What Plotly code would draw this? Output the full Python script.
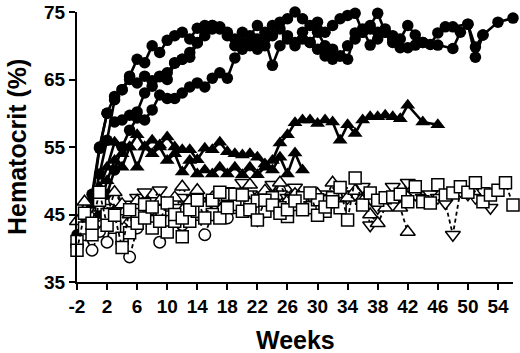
import plotly.graph_objects as go

# ---------------- data ----------------
# Filled circles (solid lines)
c1_w = [-2, -1, 0, 1, 2, 3, 4, 5, 6, 7, 8, 9, 10, 11, 12, 13, 14, 15, 16, 17, 18, 19, 20, 21, 22, 23, 24, 25, 26, 27, 28, 29, 30, 31, 32, 33, 34, 35, 36, 37, 38, 39, 40, 41, 42, 43, 44, 45, 46, 47, 48, 50, 51, 52, 54, 56]
c1_v = [42, 45, 48, 55, 60, 62.5, 63.5, 65.5, 68, 67.5, 70, 69, 70.8, 71.5, 72, 71, 72.6, 73, 73, 72.5, 72, 71, 72, 71.5, 73, 72, 73, 73.5, 74, 75, 74, 73, 73.5, 72, 73, 74, 74.5, 74.8, 72, 73, 74.8, 72, 71.5, 71, 73, 71.6, 70.5, 70.2, 71.9, 72.8, 72.8, 73.2, 68.3, 71.6, 73.5, 74.1]

c2_w = [-1, 0, 1, 2, 3, 4, 5, 6, 7, 8, 9, 10, 11, 12, 13, 14, 15, 16, 17, 18, 19, 20, 21, 22, 23, 24, 25, 26, 27, 28, 29, 30, 31, 32, 33, 34, 35, 36, 37, 38, 39, 40, 41, 42, 43, 44, 46, 48, 49, 50, 51, 52]
c2_v = [44, 46, 51, 56, 62, 63.5, 65, 64.5, 65.5, 64.8, 65.5, 65, 67.4, 68, 68.3, 70.4, 72.5, 73, 72.8, 71.5, 70, 70.5, 70, 69.5, 71, 67.1, 70, 71, 70.5, 72, 70.5, 72, 70, 69.5, 68.5, 68, 71.9, 72.5, 70.1, 72, 72.5, 71, 69.7, 69.7, 70.1, 70.5, 70.1, 69.6, 72, 73.2, 69.8, 71.6]

c3_w = [-2, -1, 0, 1, 2, 3, 4, 5, 6, 7, 8, 9, 10, 11, 12, 13, 14, 15, 16, 17, 18, 19, 20, 21, 22, 23, 24, 25, 26, 27, 28, 29, 30, 31, 32, 33, 34, 35, 36, 37, 38, 39, 40]
c3_v = [41, 42, 43, 45, 48, 51.6, 55, 57.5, 59.3, 59, 60.5, 62.7, 62.2, 62.2, 63, 63.9, 64.5, 63.9, 65.2, 66, 65.2, 68.2, 69.5, 70.5, 71, 70, 71.5, 72.5, 71.5, 70, 71, 70.5, 69.5, 68.5, 68, 68.5, 70, 71, 72, 72.5, 71, 72, 70.5]

c4_w = [-1, 0, 1, 2, 3, 4, 5, 6, 7, 8, 9, 10, 11, 12, 13, 14, 15, 16]
c4_v = [43, 47, 54.8, 60, 58.7, 59, 59.7, 60.2, 63, 64, 65.4, 66, 67.5, 68, 69, 70.5, 71.5, 72.5]

# Filled triangles (solid lines)
t1_w = [-2, 0, 1, 2, 3, 4, 5, 6, 7, 8, 9, 10, 11, 12, 13, 14, 15, 16, 17, 18, 19, 20, 21, 22, 23, 24, 25, 26, 27, 28, 29, 30, 31, 32, 33, 34, 35, 36, 37, 38, 39, 40, 41, 42, 44, 46]
t1_v = [44, 46, 49, 52, 55.7, 54, 55, 56.8, 55, 56, 55.3, 56.5, 55, 54.6, 54.6, 53.1, 54.8, 54.6, 55.7, 54.3, 54, 53.8, 54, 53.5, 52.5, 53, 55.6, 56.8, 58.6, 59, 59, 58.5, 59, 58.7, 56, 58.3, 57, 59, 59.5, 59.5, 59.7, 59.5, 59.2, 61.2, 58.7, 58.3]

t2_w = [-1, 0, 1, 2, 3, 4, 5, 6, 7, 8, 9, 10, 11, 12, 13, 14, 15, 16, 17, 18, 19, 20, 21, 22, 23, 24, 25, 26, 27, 28]
t2_v = [43, 44, 46, 50, 53, 52, 55, 52, 55, 54, 55, 53, 54, 51.3, 53, 51, 51.6, 51, 52, 51, 52, 50.9, 52, 50.9, 52, 51.6, 53.5, 51, 54.1, 51.6]

# Open squares (dashed lines)
s1_w = list(range(-2, 57))
s1_v = [39.7, 45.2, 43.7, 48.3, 43.4, 44.9, 40.1, 45.7, 43.7, 44.5, 46.1, 44, 46.7, 45, 44.5, 45.7, 47.1, 44.5, 47.1, 48.3, 46, 48, 47.9, 45.7, 44.2, 47.1, 46.4, 45.2, 45.7, 47, 45.7, 48.2, 44.9, 46.1, 46.9, 49, 44.2, 50.4, 46.4, 48.2, 47.1, 47.5, 47.6, 48, 46.9, 49.1, 46.9, 46.7, 49.4, 47.9, 48.2, 49.1, 48.3, 49.7, 46.9, 47.9, 48.6, 49.7, 46.4]

s2_w = list(range(-2, 34))
s2_v = [41, 43, 42, 47.1, 45, 43.1, 41.5, 42.3, 45, 46.5, 43, 45.5, 42.4, 44, 41.7, 44, 45.5, 46, 45, 44.5, 48, 46.5, 45.5, 46.5, 47, 45.5, 47.5, 46, 44.7, 46.5, 47.5, 46, 47.2, 45.5, 47.5, 46]

# Open circles (dashed lines)
oc_w = list(range(-1, 28))
oc_v = [42, 39.7, 42.5, 40.9, 47.1, 43, 38.7, 43, 45, 44, 40.9, 44, 45, 43.5, 44.5, 45, 42, 45, 46, 44.5, 46, 47, 46, 47.5, 48, 47, 48.5, 47.5, 48]

# Open triangles up (dashed lines)
tu_w = list(range(-2, 43))
tu_v = [44, 46.9, 44.5, 46, 45, 48.3, 46.5, 45, 47, 46, 45.5, 47, 46, 47.5, 49.1, 47, 48.6, 46.5, 47.5, 48, 47, 46.5, 48, 49.4, 47, 48.5, 47.5, 49.7, 47, 48, 46.5, 47.5, 48, 47, 49.7, 48, 47.5, 48.5, 47, 45, 43.7, 46, 47.5, 46, 42.4]

# Open triangles down (dashed lines)
td_w = list(range(-1, 54))
td_v = [44, 45.5, 44, 46, 45.5, 44.5, 46.5, 47.5, 48.3, 47, 48.6, 47, 46, 47.5, 46.5, 45.5, 47, 46, 47.5, 48.5, 47, 49.7, 48, 44.2, 47, 49.4, 48, 47.5, 49, 47.5, 46.5, 47.5, 48, 47, 48.5, 47.5, 48, 49.1, 43.4, 46, 47, 49.1, 48, 49.7, 48, 47.5, 48, 47.5, 46.7, 42, 48.5, 48, 47.5, 48.5, 46]

x_ticks = [-2, 2, 6, 10, 14, 18, 22, 26, 30, 34, 38, 42, 46, 50, 54]
y_ticks = [35, 45, 55, 65, 75]

# ---------------- figure ----------------
fig = go.Figure()

def filled(w, v, sym, size):
    fig.add_trace(go.Scatter(
        x=w, y=v, mode="lines+markers", cliponaxis=False,
        line=dict(color="black", width=2.6),
        marker=dict(symbol=sym, size=size, color="black", line=dict(width=0)),
    ))

def opened(w, v, sym, size):
    fig.add_trace(go.Scatter(
        x=w, y=v, mode="lines+markers", cliponaxis=False,
        line=dict(color="black", width=1.8, dash="4px,3px"),
        marker=dict(symbol=sym, size=size, color="white", line=dict(color="black", width=1.5)),
    ))

filled(c3_w, c3_v, "circle", 11.5)
filled(c4_w, c4_v, "circle", 11.5)
filled(c2_w, c2_v, "circle", 11.5)
filled(c1_w, c1_v, "circle", 11.5)
filled(t2_w, t2_v, "triangle-up", 13)
filled(t1_w, t1_v, "triangle-up", 13)

opened(oc_w, oc_v, "circle", 11.5)
opened(td_w, td_v, "triangle-down", 13)
opened(tu_w, tu_v, "triangle-up", 13)
opened(s2_w, s2_v, "square", 12)
opened(s1_w, s1_v, "square", 12)

tick_font = dict(family="Liberation Sans, Arial, sans-serif", size=19, color="black", weight="bold")
title_font = dict(family="Liberation Sans, Arial, sans-serif", size=25, color="black", weight="bold")

fig.update_layout(
    width=520, height=353,
    margin=dict(l=77, r=7, t=12, b=71, autoexpand=False),
    paper_bgcolor="white", plot_bgcolor="white",
    showlegend=False,
    xaxis=dict(
        range=[-2, 56], tickmode="array", tickvals=x_ticks,
        ticktext=[str(t) for t in x_ticks], automargin=False,
        showline=True, linecolor="black", linewidth=2,
        ticks="outside", ticklen=6, tickwidth=2, tickcolor="black",
        showgrid=False, zeroline=False, tickfont=tick_font,
    ),
    yaxis=dict(
        range=[35, 75], tickmode="array", tickvals=y_ticks,
        ticktext=[str(t) for t in y_ticks], automargin=False,
        showline=True, linecolor="black", linewidth=2,
        ticks="outside", ticklen=6, tickwidth=2, tickcolor="black",
        showgrid=False, zeroline=False, tickfont=tick_font,
    ),
    annotations=[
        dict(text="Weeks", xref="paper", yref="paper", x=0.5, y=0,
             xanchor="center", yanchor="middle", yshift=-58, showarrow=False,
             font=title_font),
        dict(text="Hematocrit (%)", xref="paper", yref="paper", x=0, y=0.5,
             xanchor="center", yanchor="middle", xshift=-60, textangle=-90,
             showarrow=False, font=title_font),
    ],
)

fig.write_html("out.html", config={"displayModeBar": False},
               post_script="document.body.style.margin='0px';")
